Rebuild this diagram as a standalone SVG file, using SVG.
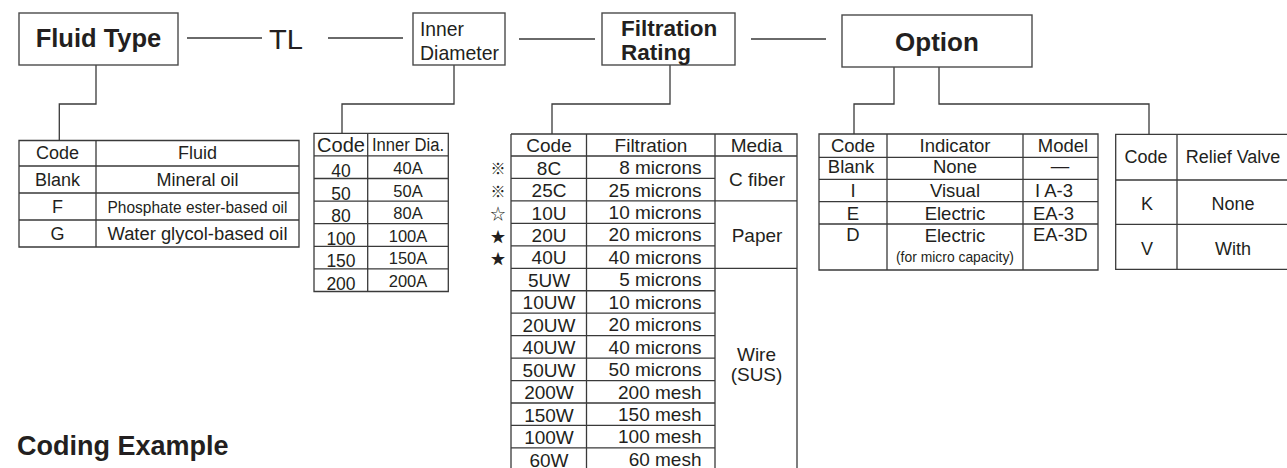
<svg xmlns="http://www.w3.org/2000/svg" width="1287" height="468" viewBox="0 0 1287 468">
<style>
text{font-family:"Liberation Sans",Arial,sans-serif;fill:#231f20}
.box{fill:#fff;stroke:#4a4a4a;stroke-width:1.4}
.ln{fill:none;stroke:#3a3a3a;stroke-width:1.3}
.tl{stroke:#3a3a3a;stroke-width:1.3;fill:none}
.c{text-anchor:middle}
.r{text-anchor:end}
.b{font-weight:bold}
.f18{font-size:18px}
.f19{font-size:19px}
.sym{font-family:"Noto Sans CJK JP","DejaVu Sans",sans-serif;font-size:15px;text-anchor:middle}
</style>
<rect width="1287" height="468" fill="#fff"/>

<g id="connectors">
<path class="ln" d="M187,38H262M328,38H403M519,39H595M751,39H826"/>
<path class="ln" d="M96,65V104H59.3V140.5"/>
<path class="ln" d="M454,65V104H342V133.3"/>
<path class="ln" d="M670,65V104H552V134"/>
<path class="ln" d="M894,67V104H854V134"/>
<path class="ln" d="M939,67V104H1149V134"/>
</g>

<g id="fluid-type">
<rect class="box" x="19" y="13" width="159" height="52"/>
<text class="c b" x="98.5" y="47" font-size="25.5">Fluid Type</text>
</g>

<g id="tl">
<text x="269" y="49" font-size="27" textLength="34" lengthAdjust="spacingAndGlyphs">TL</text>
</g>

<g id="inner-diameter">
<rect class="box" x="413" y="13" width="92" height="52"/>
<text x="420" y="36" font-size="21" textLength="44" lengthAdjust="spacingAndGlyphs">Inner</text>
<text x="420" y="60" font-size="21" textLength="79" lengthAdjust="spacingAndGlyphs">Diameter</text>
</g>

<g id="filtration-rating">
<rect class="box" x="602" y="13" width="133" height="52"/>
<text class="b" x="621" y="36" font-size="22.5">Filtration</text>
<text class="b" x="621" y="59.5" font-size="22.5">Rating</text>
</g>

<g id="option">
<rect class="box" x="842" y="15" width="190" height="52"/>
<text class="c b" x="937" y="51" font-size="26">Option</text>
</g>

<g id="fluid-table">
<path class="tl" d="M19,140.5H299V247H19ZM96,140.5V247M19,166H299M19,193H299M19,220H299"/>
<g class="f18">
<text class="c" x="57.5" y="159">Code</text>
<text class="c" x="197.5" y="159">Fluid</text>
<text class="c" x="57.5" y="186">Blank</text>
<text class="c" x="197.5" y="186">Mineral oil</text>
<text class="c" x="57.5" y="213">F</text>
<text class="c" x="197.5" y="213" font-size="16.5" textLength="180" lengthAdjust="spacingAndGlyphs">Phosphate ester-based oil</text>
<text class="c" x="57.5" y="240">G</text>
<text class="c" x="197.5" y="240" textLength="180" lengthAdjust="spacingAndGlyphs">Water glycol-based oil</text>
</g>
</g>

<g id="inner-dia-table">
<path class="tl" d="M314,133.3H448.3V291.5H314ZM367.7,133.3V291.5M314,155.9H448.3M314,178.5H448.3M314,201.1H448.3M314,223.7H448.3M314,246.3H448.3M314,268.9H448.3"/>
<text class="c" x="341" y="151.5" font-size="20" textLength="48" lengthAdjust="spacingAndGlyphs">Code</text>
<text class="c" x="408" y="150.7" font-size="18" textLength="72" lengthAdjust="spacingAndGlyphs">Inner Dia.</text>
<g font-size="17.5">
<text class="c" x="341" y="177">40</text>
<text class="c" x="341" y="199.6">50</text>
<text class="c" x="341" y="222.2">80</text>
<text class="c" x="341" y="244.8">100</text>
<text class="c" x="341" y="267.4">150</text>
<text class="c" x="341" y="290">200</text>
</g>
<g font-size="16.5">
<text class="c" x="408" y="174">40A</text>
<text class="c" x="408" y="196.6">50A</text>
<text class="c" x="408" y="219.2">80A</text>
<text class="c" x="408" y="241.8">100A</text>
<text class="c" x="408" y="264.4">150A</text>
<text class="c" x="408" y="287">200A</text>
</g>
</g>

<g id="filtration-table">
<path class="tl" d="M511,134H797V472M511,134V472M586.5,134V472M715,134V472M511,156H797M511,200.9H797M511,268.3H797M511,178.45H715M511,223.35H715M511,245.8H715M511,290.75H715M511,313.2H715M511,335.65H715M511,358.1H715M511,380.55H715M511,403H715M511,425.45H715M511,447.9H715"/>
<g class="f19">
<text class="c" x="549" y="152">Code</text>
<text class="c" x="651" y="152">Filtration</text>
<text class="c" x="756.5" y="152">Media</text>
<text class="c" x="549" y="174.6">8C</text>
<text class="c" x="549" y="197.1">25C</text>
<text class="c" x="549" y="219.5">10U</text>
<text class="c" x="549" y="242">20U</text>
<text class="c" x="549" y="264.4">40U</text>
<text class="c" x="549" y="286.9">5UW</text>
<text class="c" x="549" y="309.3">10UW</text>
<text class="c" x="549" y="331.8">20UW</text>
<text class="c" x="549" y="354.2">40UW</text>
<text class="c" x="549" y="376.7">50UW</text>
<text class="c" x="549" y="399.1">200W</text>
<text class="c" x="549" y="421.6">150W</text>
<text class="c" x="549" y="444">100W</text>
<text class="c" x="549" y="466.5">60W</text>
<text class="r" x="701.5" y="174">8 microns</text>
<text class="r" x="701.5" y="196.5">25 microns</text>
<text class="r" x="701.5" y="218.9">10 microns</text>
<text class="r" x="701.5" y="241.4">20 microns</text>
<text class="r" x="701.5" y="263.8">40 microns</text>
<text class="r" x="701.5" y="286.3">5 microns</text>
<text class="r" x="701.5" y="308.7">10 microns</text>
<text class="r" x="701.5" y="331.2">20 microns</text>
<text class="r" x="701.5" y="353.6">40 microns</text>
<text class="r" x="701.5" y="376.1">50 microns</text>
<text class="r" x="701.5" y="398.5">200 mesh</text>
<text class="r" x="701.5" y="421">150 mesh</text>
<text class="r" x="701.5" y="443.4">100 mesh</text>
<text class="r" x="701.5" y="465.9">60 mesh</text>
<text class="c" x="757" y="186">C fiber</text>
<text class="c" x="757" y="241.5">Paper</text>
<text class="c" x="756.5" y="361">Wire</text>
<text class="c" x="756.5" y="381">(SUS)</text>
</g>
<text class="sym" x="498" y="174">※</text>
<text class="sym" x="498" y="196.5">※</text>
<text class="sym" x="498" y="219">☆</text>
<text class="sym" x="498" y="241.5">★</text>
<text class="sym" x="498" y="264">★</text>
</g>

<g id="indicator-table">
<path class="tl" d="M819,134H1098V270H819ZM887,134V270M1023,134V270M819,157.3H1098M819,179.3H1098M819,201.7H1098M819,224H1098"/>
<g font-size="18.5">
<text class="c" x="853" y="152">Code</text>
<text class="c" x="955" y="152">Indicator</text>
<text class="c" x="1063" y="152">Model</text>
<text class="c" x="851" y="173">Blank</text>
<text class="c" x="955" y="173">None</text>
<text class="c" x="1060" y="172">—</text>
<text class="c" x="853" y="197">I</text>
<text class="c" x="955" y="197">Visual</text>
<text x="1035" y="197">I A-3</text>
<text class="c" x="853" y="220">E</text>
<text class="c" x="955" y="220">Electric</text>
<text x="1033" y="220">EA-3</text>
<text class="c" x="853" y="241">D</text>
<text class="c" x="955" y="241.7">Electric</text>
<text x="1033" y="241">EA-3D</text>
</g>
<text class="c" x="955" y="261.7" font-size="15" textLength="118" lengthAdjust="spacingAndGlyphs">(for micro capacity)</text>
</g>

<g id="relief-valve-table">
<path class="tl" d="M1300,134.3H1115.7V269.3H1300M1177,134.3V269.3M1115.7,180H1300M1115.7,224.3H1300"/>
<g class="f18">
<text class="c" x="1146" y="163.3">Code</text>
<text class="c" x="1233" y="163.3">Relief Valve</text>
<text class="c" x="1147" y="210">K</text>
<text class="c" x="1233" y="210">None</text>
<text class="c" x="1147" y="255">V</text>
<text class="c" x="1233" y="255">With</text>
</g>
</g>

<g id="coding-example">
<text class="b" x="17" y="455" font-size="27">Coding Example</text>
</g>
</svg>
